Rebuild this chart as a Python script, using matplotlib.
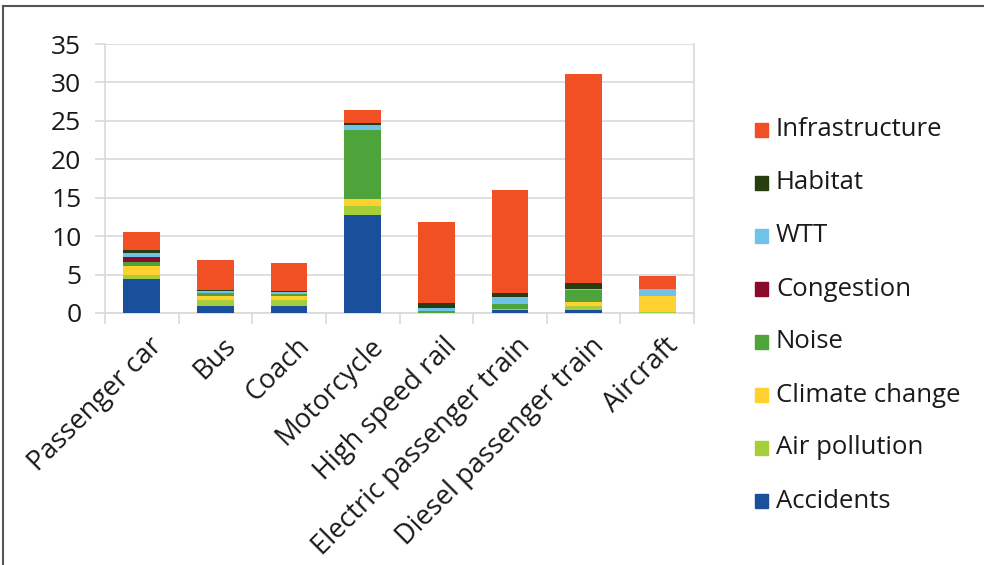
import matplotlib
matplotlib.use("Agg")
import matplotlib.pyplot as plt
from matplotlib.patches import Rectangle
from matplotlib.lines import Line2D
import numpy as np

plt.rcParams['font.family'] = ['Open Sans', 'DejaVu Sans']

categories = ["Passenger car", "Bus", "Coach", "Motorcycle", "High speed rail",
              "Electric passenger train", "Diesel passenger train", "Aircraft"]

series_names = ["Accidents", "Air pollution", "Climate change", "Noise",
                "Congestion", "WTT", "Habitat", "Infrastructure"]

accidents      = [4.4, 0.9, 0.9, 12.7, 0.0, 0.4, 0.45, 0.0]
air_pollution  = [0.6, 0.8, 0.8, 1.2, 0.0, 0.1, 0.5, 0.1]
climate_change = [1.1, 0.45, 0.45, 0.9, 0.0, 0.0, 0.5, 2.1]
noise          = [0.5, 0.4, 0.3, 9.0, 0.25, 0.7, 1.6, 0.0]
congestion     = [0.7, 0.05, 0.05, 0.05, 0.0, 0.0, 0.0, 0.0]
wtt            = [0.45, 0.2, 0.2, 0.55, 0.35, 0.85, 0.05, 0.9]
habitat        = [0.45, 0.15, 0.1, 0.3, 0.65, 0.5, 0.8, 0.0]
infrastructure = [2.4, 4.0, 3.75, 1.75, 10.6, 13.5, 27.2, 1.7]

colors = ["#1A4F9C", "#A6CE39", "#FFD12E", "#4FA33B",
          "#8A0B2C", "#6FC2EA", "#283D10", "#F05023"]

values = [accidents, air_pollution, climate_change, noise,
          congestion, wtt, habitat, infrastructure]

W, H = 984, 565
fig = plt.figure(figsize=(W / 100, H / 100), dpi=100)
ax = fig.add_axes([105 / W, 1 - 313 / H, 589 / W, 269 / H])

x = np.arange(len(categories))
bottom = np.zeros(len(categories))
for name, vals, col in zip(series_names, values, colors):
    v = np.array(vals)
    ax.bar(x, v, width=0.5, bottom=bottom, color=col, label=name, zorder=3)
    bottom += v

ax.set_xlim(-0.5, len(categories) - 0.5)
ax.set_ylim(0, 35)
ax.set_yticks(range(0, 36, 5))
ax.grid(axis='y', color="#D9D9D9", linewidth=1.2, zorder=0)
ax.spines['top'].set_visible(False)
for side in ['left', 'right', 'bottom']:
    ax.spines[side].set_color("#D9D9D9")
    ax.spines[side].set_linewidth(1.2)

ax.tick_params(axis='y', length=7, color="#D9D9D9", width=1.2, pad=10,
               labelsize=19, labelcolor="#1a1a1a")
ax.set_xticks(x)
ax.set_xticklabels([])
ax.tick_params(axis='x', which='major', length=0)
ax.set_xticks(np.arange(-0.5, len(categories), 1.0), minor=True)
ax.tick_params(axis='x', which='minor', length=8, color="#D9D9D9", width=1.2)

for xi, lab in zip(x, categories):
    ax.annotate(lab, xy=(xi, 0), xycoords='data', xytext=(12, -21),
                textcoords='offset points', rotation=45, ha='right', va='center',
                rotation_mode='anchor', fontsize=19.5, color="#1a1a1a")

# legend, top entry first
legend_top = 130
row_step = 53
for i, (name, col) in enumerate(zip(series_names[::-1], colors[::-1])):
    yc = legend_top + i * row_step
    fig.patches.append(Rectangle((755 / W, 1 - (yc + 7) / H), 13 / W, 14 / H,
                                 transform=fig.transFigure, color=col))
    fig.text(776 / W, 1 - yc / H, name, fontsize=18.5, va='center', ha='left',
             color="#1a1a1a")

# outer frame
fig.lines.append(Line2D([3 / W, 3 / W], [0, 1 - 6 / H], transform=fig.transFigure,
                        color="#555555", linewidth=1.5))
fig.lines.append(Line2D([3 / W, 1], [1 - 6 / H, 1 - 6 / H], transform=fig.transFigure,
                        color="#555555", linewidth=1.5))

fig.savefig("out.png", dpi=100)
